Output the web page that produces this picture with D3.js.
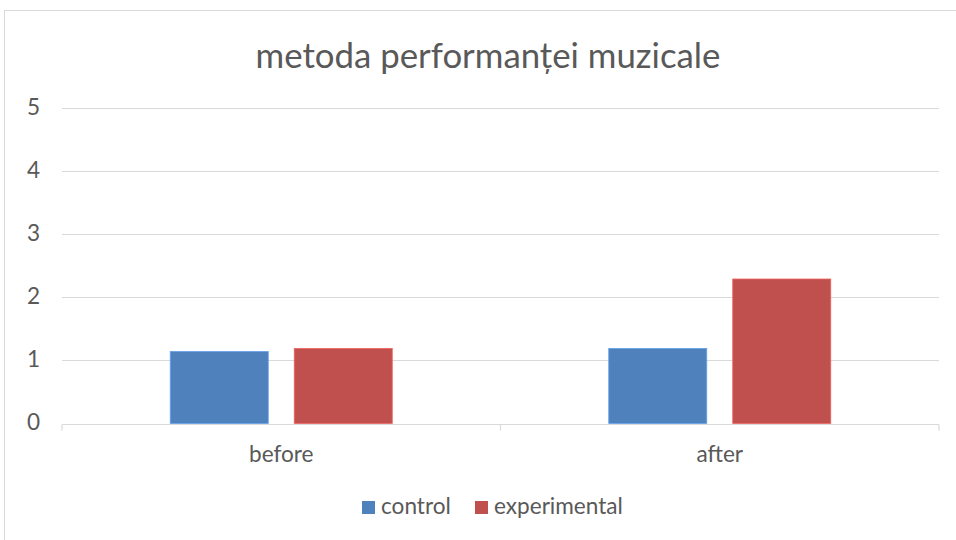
<!DOCTYPE html>
<html><head><meta charset="utf-8">
<script src="https://cdn.jsdelivr.net/npm/d3@7"></script>
<style>
body{margin:0;background:#fff;}
text{font-family:Lato,"Open Sans",sans-serif;fill:#595959;}
</style></head>
<body>
<svg id="c" width="956" height="540"></svg>
<script>
const title = "metoda performanței muzicale";
const categories = ["before", "after"];
const seriesNames = ["control", "experimental"];
const controlValues = [1.14, 1.19];
const experimentalValues = [1.19, 2.29];
const yTicks = [0, 1, 2, 3, 4, 5];
const colors = ["#4f81bd", "#c0504d"];

const svg = d3.select("#c");
svg.append("rect").attr("x", 4.5).attr("y", 10.5).attr("width", 960).attr("height", 540)
  .attr("fill", "#fff").attr("stroke", "#d9d9d9").attr("stroke-width", 1);

// fit small label font size to reference width of "experimental" (~129px)
const probe = svg.append("text").attr("font-size", 20).text("experimental");
const fs = 20 * 129 / probe.node().getComputedTextLength();
probe.remove();

const m = {left: 62, right: 939, top: 108, bottom: 423.5};
const x = d3.scaleBand().domain(categories).range([m.left, m.right]);
const y = d3.scaleLinear().domain([0, 5]).range([m.bottom, m.top]);

svg.append("g").selectAll("line").data(yTicks.filter(d => d > 0)).join("line")
  .attr("x1", m.left).attr("x2", m.right)
  .attr("y1", d => Math.round(y(d)) + 0.5).attr("y2", d => Math.round(y(d)) + 0.5)
  .attr("stroke", "#d9d9d9").attr("stroke-width", 1.2);

svg.append("g").selectAll("text").data(yTicks).join("text")
  .attr("x", 40).attr("y", d => y(d) + 6.5)
  .attr("text-anchor", "end").attr("font-size", fs).text(d => d);

const groupW = x.bandwidth();
const barW = groupW * 0.2235;
const gap = groupW * 0.0593;
const sub = d3.scaleBand().domain(seriesNames).range([0, 2 * barW + gap]).paddingInner(gap / (barW + gap)).paddingOuter(0);
const data = [];
categories.forEach((c, i) => {
  data.push({c, s: "control", v: controlValues[i], col: colors[0]});
  data.push({c, s: "experimental", v: experimentalValues[i], col: colors[1]});
});
const totalW = 2 * barW + gap;
svg.append("g").selectAll("rect").data(data).join("rect")
  .attr("x", d => x(d.c) + (groupW - totalW) / 2 + sub(d.s))
  .attr("width", sub.bandwidth())
  .attr("y", d => y(d.v))
  .attr("height", d => y(0) - y(d.v))
  .attr("fill", d => d.col)
  .attr("stroke", d => d3.color(d.col).brighter(0.6))
  .attr("stroke-width", 0.8);

const axisY = Math.round(y(0)) + 0.5;
svg.append("line").attr("x1", m.left).attr("x2", m.right).attr("y1", axisY).attr("y2", axisY)
  .attr("stroke", "#d9d9d9").attr("stroke-width", 1.2);
const tickXs = [m.left, ...categories.map(c => x(c) + groupW)];
svg.append("g").selectAll("line").data(tickXs).join("line")
  .attr("x1", d => d).attr("x2", d => d).attr("y1", axisY).attr("y2", axisY + 6)
  .attr("stroke", "#d9d9d9").attr("stroke-width", 1.2);
svg.append("g").selectAll("text").data(categories).join("text")
  .attr("x", d => x(d) + groupW / 2).attr("y", 462)
  .attr("text-anchor", "middle").attr("font-size", fs).text(d => d);

const t = svg.append("text").attr("x", 488).attr("y", 68).attr("text-anchor", "middle")
  .attr("font-size", 30).text(title);
const tw = t.node().getComputedTextLength();
t.attr("font-size", 30 * 465 / tw);

const leg = svg.append("g");
const legX = [362, 475];
seriesNames.forEach((s, i) => {
  leg.append("rect").attr("x", legX[i]).attr("y", 501).attr("width", 13).attr("height", 13).attr("fill", colors[i]);
  leg.append("text").attr("x", legX[i] + 19).attr("y", 514).attr("font-size", fs).text(s);
});
</script>
</body></html>
